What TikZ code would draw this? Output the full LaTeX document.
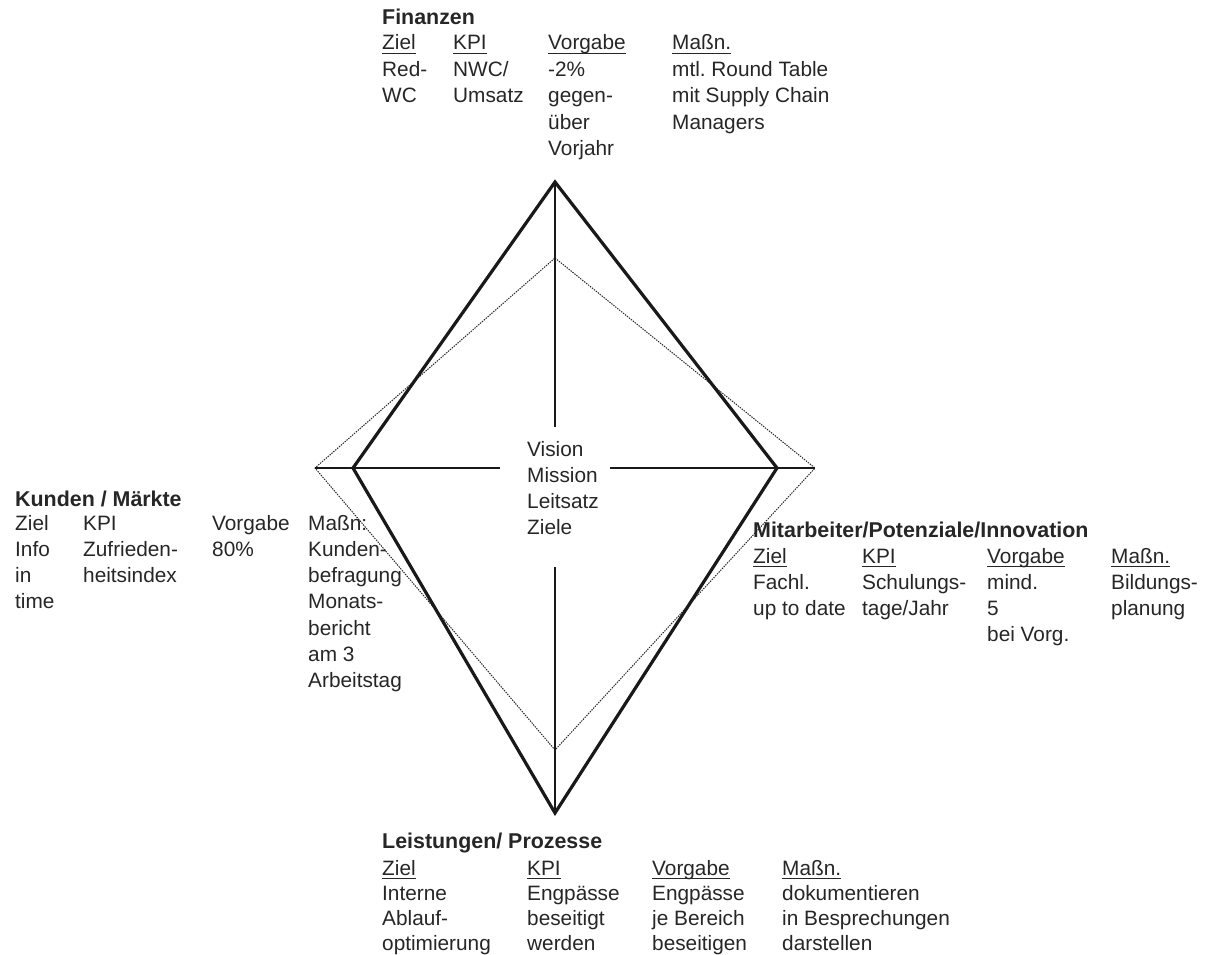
\documentclass[tikz,border=0pt]{standalone}
\usepackage{fontspec}
\setmainfont{Liberation Sans}
\frenchspacing
\newcommand\ulin[1]{\leavevmode\setbox0\hbox{#1}\rlap{\copy0}\rule[-4.2pt]{\wd0}{1.4pt}}
\newcommand\lines[2][26.4pt]{\vtop{\baselineskip=#1\relax\lineskiplimit=-1000pt\lineskip=0pt\halign{##\hfil\cr#2\crcr}}}
\definecolor{txt}{HTML}{262626}
\begin{document}
\begin{tikzpicture}[x=1pt,y=-1pt,
  every node/.style={inner sep=0pt, anchor=base west, text=txt, font=\fontsize{20.8}{26}\selectfont\frenchspacing},
  ttl/.style={font=\fontsize{21.4}{26}\selectfont\bfseries},
  solidline/.style={line width=3.2pt, draw=black!90, line join=miter},
  axisline/.style={line width=2pt, draw=black!90},
  dotline/.style={line width=1pt, draw=black!85, dash pattern=on 1.4pt off 1.1pt}]
\useasboundingbox (0,0) rectangle (1208,955);
% vertices
\coordinate (T) at (555,182);
\coordinate (B) at (555,813);
\coordinate (L) at (353,468);
\coordinate (R) at (777,468);
\coordinate (dT) at (555,258);
\coordinate (dB) at (555,750);
\coordinate (dL) at (315,468);
\coordinate (dR) at (815,468);
\coordinate (vA) at (555,427);
\coordinate (vB) at (555,567);
\coordinate (hA) at (500,468);
\coordinate (hB) at (610,468);
% shapes
\draw[dotline] (dT) -- (dR) -- (dB) -- (dL) -- cycle;
\draw[axisline] (T) -- (vA);
\draw[axisline] (vB) -- (B);
\draw[axisline] (dL) -- (hA);
\draw[axisline] (hB) -- (dR);
\draw[solidline] (T) -- (R) -- (B) -- (L) -- cycle;
% centre
\node (ctr) at (527,456) {\lines[26pt]{Vision\cr Mission\cr Leitsatz\cr Ziele}};
% Finanzen
\node[ttl] (finT) at (382,25) {Finanzen};
\node (finA) at (382,50) {\lines{\ulin{Ziel}\cr Red-\cr WC}};
\node (finB) at (453,50) {\lines{\ulin{KPI}\cr NWC/\cr Umsatz}};
\node (finC) at (548,50) {\lines{\ulin{Vorgabe}\cr -2\%\cr gegen-\cr über\cr Vorjahr}};
\node (finD) at (672,50) {\lines{\ulin{Maßn.}\cr mtl. Round Table\cr mit Supply Chain\cr Managers}};
% Kunden
\node[ttl] (kunT) at (15,506) {Kunden / Märkte};
\node (kunA) at (15,530) {\lines[26.3pt]{Ziel\cr Info\cr in\cr time}};
\node (kunB) at (83,530) {\lines[26.3pt]{KPI\cr Zufrieden-\cr heitsindex}};
\node (kunC) at (212,530) {\lines[26.3pt]{Vorgabe\cr 80\%}};
\node (kunD) at (308,530) {\lines[26.3pt]{Maßn:\cr Kunden-\cr befragung\cr Monats-\cr bericht\cr am 3\cr Arbeitstag}};
% Mitarbeiter
\node[ttl] (mitT) at (753,537) {Mitarbeiter/Potenziale/Innovation};
\node (mitA) at (753,563) {\lines[26.3pt]{\ulin{Ziel}\cr Fachl.\cr up to date}};
\node (mitB) at (862,563) {\lines[26.3pt]{\ulin{KPI}\cr Schulungs-\cr tage/Jahr}};
\node (mitC) at (987,563) {\lines[26.3pt]{\ulin{Vorgabe}\cr mind.\cr 5\cr bei Vorg.}};
\node (mitD) at (1111,563) {\lines[26.3pt]{\ulin{Maßn.}\cr Bildungs-\cr planung}};
% Leistungen
\node[ttl] (leiT) at (382,848) {Leistungen/ Prozesse};
\node (leiA) at (382,875) {\lines[25.3pt]{\ulin{Ziel}\cr Interne\cr Ablauf-\cr optimierung}};
\node (leiB) at (527,875) {\lines[25.3pt]{\ulin{KPI}\cr Engpässe\cr beseitigt\cr werden}};
\node (leiC) at (652,875) {\lines[25.3pt]{\ulin{Vorgabe}\cr Engpässe\cr je Bereich\cr beseitigen}};
\node (leiD) at (782,875) {\lines[25.3pt]{\ulin{Maßn.}\cr dokumentieren\cr in Besprechungen\cr darstellen}};
\end{tikzpicture}
\end{document}
